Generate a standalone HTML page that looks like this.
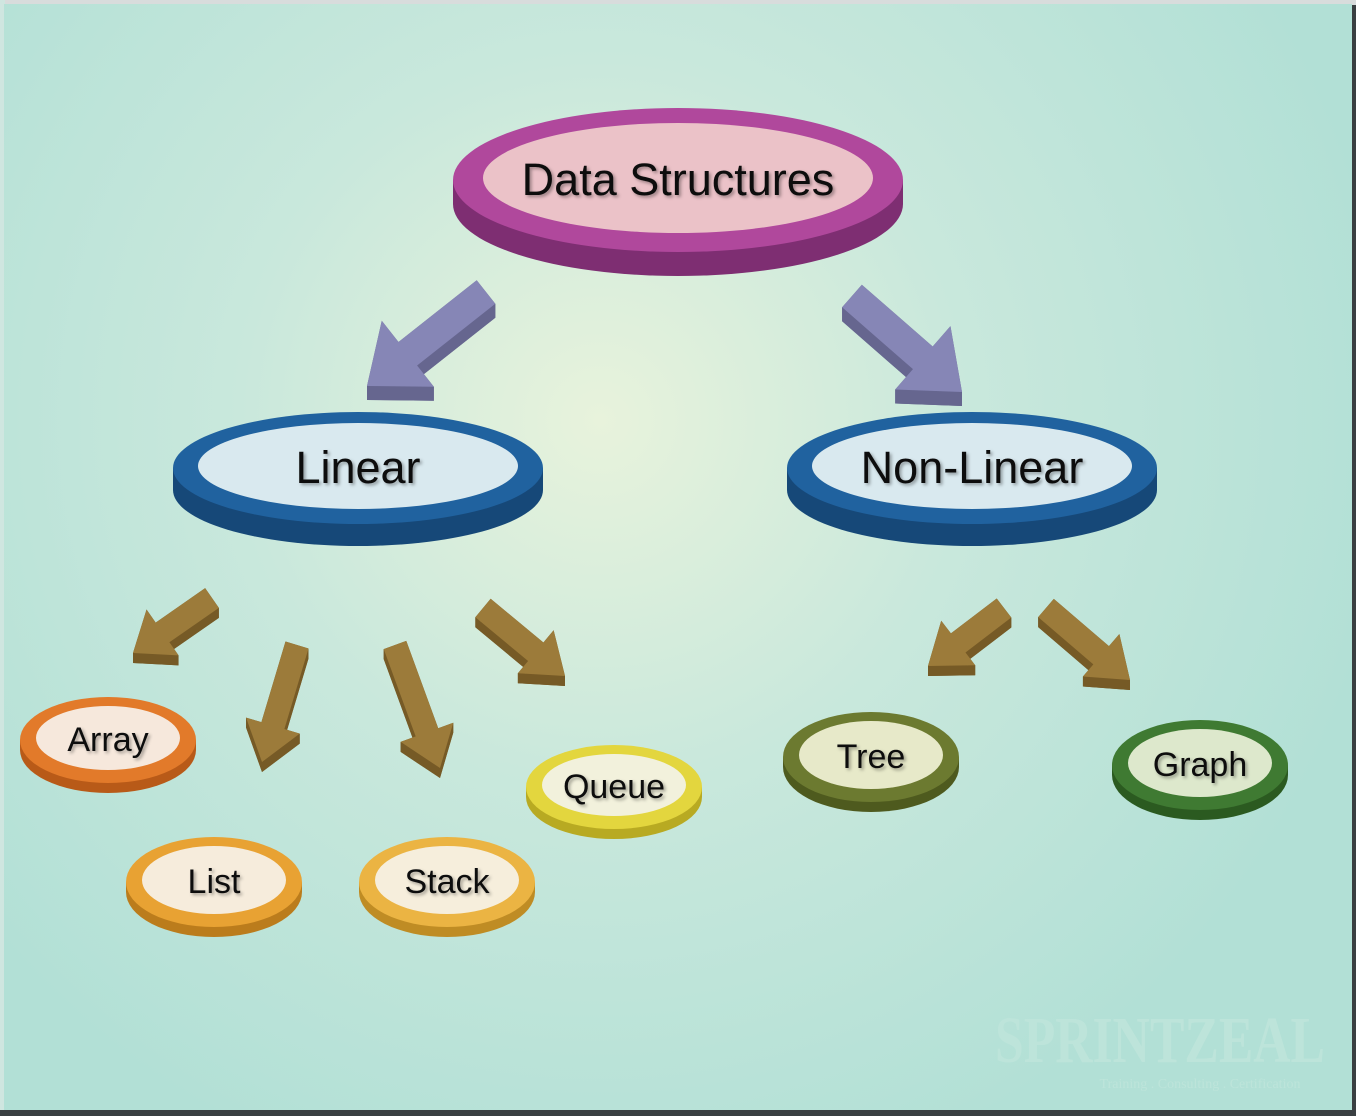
<!DOCTYPE html>
<html><head><meta charset="utf-8"><style>
html,body{margin:0;padding:0;}
body{width:1356px;height:1116px;overflow:hidden;background:#222;}
svg{display:block;}
text{font-family:"Liberation Sans",sans-serif;fill:#111;}
text.wm{font-family:"Liberation Serif",serif;fill:#bde4da;}
</style></head><body>
<svg id="s" width="1356" height="1116" viewBox="0 0 1356 1116">
<defs>
<radialGradient id="bg" cx="600" cy="420" r="800" gradientUnits="userSpaceOnUse">
<stop offset="0" stop-color="#e8f3dc"/><stop offset="0.45" stop-color="#c9e8dc"/><stop offset="1" stop-color="#b2e0d6"/>
</radialGradient>
<filter id="sh"><feDropShadow dx="2" dy="2" stdDeviation="1.5" flood-color="#000" flood-opacity="0.35"/></filter>
</defs>
<rect x="0" y="0" width="1356" height="1116" fill="#3a3f42"/>
<rect x="0" y="0" width="1356" height="5" fill="#d8dcdc"/>
<rect x="0" y="0" width="5" height="1110" fill="#cfe6e0"/>
<rect x="4" y="4" width="1348" height="1106" fill="url(#bg)"/>
<text class="wm" x="1160" y="1062" font-size="66" font-weight="bold" text-anchor="middle" textLength="330" lengthAdjust="spacingAndGlyphs">SPRINTZEAL</text>
<text class="wm" x="1200" y="1088" font-size="14" text-anchor="middle">Training . Consulting . Certification</text>
<g id="g"></g>
</svg>
<script>
var g=document.getElementById('g'),NS='http://www.w3.org/2000/svg';
function el(t,a,txt){var e=document.createElementNS(NS,t);for(var k in a)e.setAttribute(k,a[k]);if(txt)e.textContent=txt;g.appendChild(e);return e;}
function arrow(x1,y1,x2,y2,sw,hw,hl,c,d,dep){
 var dx=x2-x1,dy=y2-y1,L=Math.hypot(dx,dy),ux=dx/L,uy=dy/L,px=-uy,py=ux;
 var bx=x2-ux*hl,by=y2-uy*hl;
 var pts=[[x1+px*sw/2,y1+py*sw/2],[bx+px*sw/2,by+py*sw/2],[bx+px*hw/2,by+py*hw/2],[x2,y2],[bx-px*hw/2,by-py*hw/2],[bx-px*sw/2,by-py*sw/2],[x1-px*sw/2,y1-py*sw/2]];
 var s=function(o){return pts.map(function(p){return (p[0])+','+(p[1]+o)}).join(' ')};
 el('polygon',{points:s(dep),fill:d});
 for(var i=0;i<pts.length;i++){var a=pts[i],b=pts[(i+1)%pts.length];
  el('polygon',{points:a[0]+','+a[1]+' '+b[0]+','+b[1]+' '+b[0]+','+(b[1]+dep)+' '+a[0]+','+(a[1]+dep),fill:d});}
 el('polygon',{points:s(0),fill:c});
}
function disk(cx,cy,rx,ry,th,c,d,inner,irx,iry,label,fs){
 el('ellipse',{cx:cx,cy:cy+th,rx:rx,ry:ry,fill:d});
 el('rect',{x:cx-rx,y:cy,width:rx*2,height:th,fill:d});
 el('ellipse',{cx:cx,cy:cy,rx:rx,ry:ry,fill:c});
 el('ellipse',{cx:cx,cy:cy-2,rx:irx,ry:iry,fill:inner});
 el('text',{x:cx,y:cy+fs*0.33,'font-size':fs,'text-anchor':'middle',filter:'url(#sh)'},label);
}
var P='#8686b6',PD='#66668f',B='#9c7b3a',BD='#765a26';
arrow(486,292,367,386,30,84,52,P,PD,14);
arrow(852,296,962,392,30,84,52,P,PD,14);
arrow(212,598,133,653,24,56,36,B,BD,10);
arrow(297,645,262,762,24,56,38,B,BD,10);
arrow(395,645,440,768,24,56,38,B,BD,10);
arrow(483,608,565,676,24,56,38,B,BD,10);
arrow(1004,608,928,666,24,56,38,B,BD,10);
arrow(1046,608,1130,680,24,56,38,B,BD,10);
disk(678,180,225,72,24,'#b0489c','#7e2e72','#ebc2c8',195,55,'Data Structures',45);
disk(358,468,185,56,22,'#20629f','#164878','#d9e9ef',160,43,'Linear',45);
disk(972,468,185,56,22,'#20629f','#164878','#d9e9ef',160,43,'Non-Linear',45);
disk(108,740,88,43,10,'#e27a2a','#b85a18','#f6e8dc',72,32,'Array',34);
disk(214,882,88,45,10,'#e8a233','#bb7c1c','#f6ecdc',72,34,'List',34);
disk(447,882,88,45,10,'#ebb443','#bf8c24','#f6eedc',72,34,'Stack',34);
disk(614,787,88,42,10,'#e3d63e','#b8aa22','#f2f1dc',72,31,'Queue',34);
disk(871,757,88,45,10,'#6c7a30','#4e5a1e','#e7e9c9',72,34,'Tree',34);
disk(1200,765,88,45,10,'#3f7a32','#2b5a20','#dde8cc',72,34,'Graph',34);
</script>
</body></html>
